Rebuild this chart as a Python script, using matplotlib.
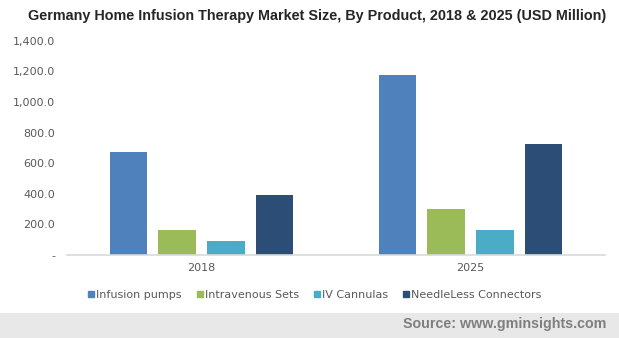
import matplotlib
matplotlib.use("Agg")
import matplotlib.pyplot as plt
import numpy as np
from matplotlib.patches import Rectangle
from matplotlib.lines import Line2D

YEARS = ["2018", "2025"]
PRODUCTS = ["Infusion pumps", "Intravenous Sets", "IV Cannulas", "NeedleLess Connectors"]
INFUSION_PUMPS = [673, 1176]
INTRAVENOUS_SETS = [163, 300]
IV_CANNULAS = [91, 163]
NEEDLELESS = [392, 725]
SERIES = [INFUSION_PUMPS, INTRAVENOUS_SETS, IV_CANNULAS, NEEDLELESS]
COLORS = ["#4f81bd", "#9bbb59", "#4bacc6", "#2c4d75"]
YTICKS = [0, 200, 400, 600, 800, 1000, 1200, 1400]
YTICK_LABELS = ["-", "200.0", "400.0", "600.0", "800.0", "1,000.0", "1,200.0", "1,400.0"]

W, H = 619, 338
fig = plt.figure(figsize=(W / 100, H / 100), dpi=100)
fig.patch.set_facecolor("white")

ax = fig.add_axes([67 / W, 1 - 255 / H, (605 - 67) / W, (255 - 40.7) / H])
x = np.arange(len(YEARS))
width = 0.141
pitch = 0.181
for i, (vals, color) in enumerate(zip(SERIES, COLORS)):
    offset = (i - 1.5) * pitch
    ax.bar(x + offset, vals, width, color=color, label=PRODUCTS[i])

ax.set_xlim(-0.5, 1.5)
ax.set_ylim(0, 1400)
ax.set_yticks(YTICKS)
ax.set_yticklabels(YTICK_LABELS)
ax.set_xticks(x)
ax.set_xticklabels(YEARS)
for s in ["top", "right", "left"]:
    ax.spines[s].set_visible(False)
ax.spines["bottom"].set_color("#d9d9d9")
ax.spines["bottom"].set_linewidth(1.2)
ax.tick_params(axis="both", length=0, labelsize=8, labelcolor="#595959")
ax.tick_params(axis="y", pad=8.5)
ax.tick_params(axis="x", pad=6)
for t in ax.get_yticklabels() + ax.get_xticklabels():
    t.set_family("DejaVu Sans")

fig.text(0.513, 1 - 16 / H, "Germany Home Infusion Therapy Market Size, By Product, 2018 & 2025 (USD Million)",
         ha="center", va="center", fontsize=10.4, fontweight="bold", color="#262626",
         family="Liberation Sans")

handles = [Line2D([], [], marker="s", linestyle="none", markersize=5,
                  markerfacecolor=c, markeredgecolor=c) for c in COLORS]
fig.legend(handles, PRODUCTS, loc="center", bbox_to_anchor=(314 / W, 1 - 295 / H),
           ncol=4, frameon=False, fontsize=8, handletextpad=0.05, columnspacing=1.2,
           labelcolor="#595959", handlelength=0.8)

fig.patches.append(Rectangle((0, 0), 1, 1 - 313 / H, transform=fig.transFigure,
                             facecolor="#e8e8e8", edgecolor="none", zorder=0))
fig.text(606 / W, 1 - 324 / H, "Source: www.gminsights.com", ha="right", va="center",
         fontsize=10.3, fontweight="bold", color="#7f7f7f", family="Liberation Sans")

fig.savefig("out.png", dpi=100)
